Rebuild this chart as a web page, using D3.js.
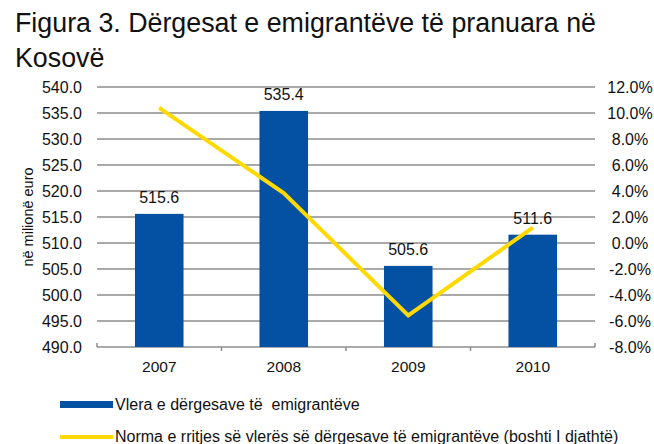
<!DOCTYPE html>
<html>
<head>
<meta charset="utf-8">
<script src="https://cdn.jsdelivr.net/npm/d3@7"></script>
<style>
  body { margin: 0; background: #fff; }
  svg text { font-family: "Liberation Sans", Arial, sans-serif; fill: #111; }
</style>
</head>
<body>
<svg id="chart"></svg>
<script>
// data
const years = ["2007", "2008", "2009", "2010"];
const remittances = [515.6, 535.4, 505.6, 511.6];
const growth = [10.4, 3.84, -5.57, 1.19];
const leftTicks = [490, 495, 500, 505, 510, 515, 520, 525, 530, 535, 540];
const rightTicks = [-8, -6, -4, -2, 0, 2, 4, 6, 8, 10, 12];

const width = 654, height = 444;
const svg = d3.select("#chart").attr("width", width).attr("height", height);

const margin = { top: 87, right: 59, bottom: 97, left: 97 };
const innerW = width - margin.left - margin.right;
const innerH = height - margin.top - margin.bottom;
const g = svg.append("g").attr("transform", `translate(${margin.left},${margin.top})`);

// title
const title = svg.append("text").attr("font-size", 26.8);
title.append("tspan").attr("x", 15).attr("y", 32).text("Figura 3. Dërgesat e emigrantëve të pranuara në");
title.append("tspan").attr("x", 15).attr("y", 67).text("Kosovë");

// scales
const x = d3.scaleBand().domain(years).range([0, innerW]);
const y = d3.scaleLinear().domain([490, 540]).range([innerH, 0]);
const y2 = d3.scaleLinear().domain([-8, 12]).range([innerH, 0]);
const barW = x.bandwidth() * 0.39;

// gridlines
g.append("g").selectAll("line").data(leftTicks).join("line")
  .attr("x1", 0).attr("x2", innerW)
  .attr("y1", d => y(d)).attr("y2", d => y(d))
  .attr("stroke", "#8c8c8c").attr("stroke-width", 1.5);

// left axis labels
const yAxis = g.append("g")
  .call(d3.axisLeft(y).tickValues(leftTicks).tickFormat(d3.format(".1f")).tickSize(0).tickPadding(15));
yAxis.select(".domain").remove();
yAxis.selectAll("text").attr("font-size", 16).attr("font-family", null);

// right axis labels
const y2Axis = g.append("g").attr("transform", `translate(${innerW},0)`)
  .call(d3.axisRight(y2).tickValues(rightTicks).tickFormat(d => d.toFixed(1) + "%").tickSize(0));
y2Axis.select(".domain").remove();
y2Axis.selectAll("text").attr("font-size", 16).attr("font-family", null)
  .attr("text-anchor", "middle").attr("x", 35);

// x axis
const xAxis = g.append("g").attr("transform", `translate(0,${innerH})`)
  .call(d3.axisBottom(x).tickSize(0).tickPadding(14));
xAxis.select(".domain").remove();
xAxis.selectAll("text").attr("font-size", 15.5).attr("font-family", null);
g.append("g").selectAll("line").data(d3.range(years.length + 1)).join("line")
  .attr("x1", i => i * x.step()).attr("x2", i => i * x.step())
  .attr("y1", i => (i === 0 || i === years.length) ? innerH - 4 : innerH)
  .attr("y2", i => (i === 0 || i === years.length) ? innerH : innerH + 4)
  .attr("stroke", "#8c8c8c").attr("stroke-width", 1.5);

// bars
g.append("g").selectAll("rect").data(remittances).join("rect")
  .attr("x", (d, i) => x(years[i]) + x.bandwidth() / 2 - barW / 2)
  .attr("width", barW)
  .attr("y", d => y(d))
  .attr("height", d => innerH - y(d))
  .attr("fill", "#0450a2");

// bar labels
g.append("g").selectAll("text").data(remittances).join("text")
  .attr("x", (d, i) => x(years[i]) + x.bandwidth() / 2)
  .attr("y", d => y(d) - 11)
  .attr("text-anchor", "middle").attr("font-size", 16)
  .text(d => d.toFixed(1));

// growth line
const line = d3.line()
  .x((d, i) => x(years[i]) + x.bandwidth() / 2)
  .y(d => y2(d));
g.append("path").datum(growth)
  .attr("d", line)
  .attr("fill", "none").attr("stroke", "#ffd900").attr("stroke-width", 4);

// y title
svg.append("text")
  .attr("transform", `translate(33,${margin.top + innerH / 2}) rotate(-90)`)
  .attr("text-anchor", "middle").attr("font-size", 14.5)
  .text("në milionë euro");

// legend
const legend = svg.append("g");
legend.append("rect").attr("x", 60).attr("y", 401).attr("width", 53).attr("height", 7).attr("fill", "#0450a2");
legend.append("text").attr("x", 115).attr("y", 410).attr("font-size", 16)
  .style("white-space", "pre").text("Vlera e dërgesave të  emigrantëve");
legend.append("line").attr("x1", 60).attr("x2", 113).attr("y1", 437).attr("y2", 437)
  .attr("stroke", "#ffd900").attr("stroke-width", 4);
legend.append("text").attr("x", 115).attr("y", 442).attr("font-size", 16)
  .text("Norma e rritjes së vlerës së dërgesave të emigrantëve (boshti I djathtë)");
</script>
</body>
</html>
